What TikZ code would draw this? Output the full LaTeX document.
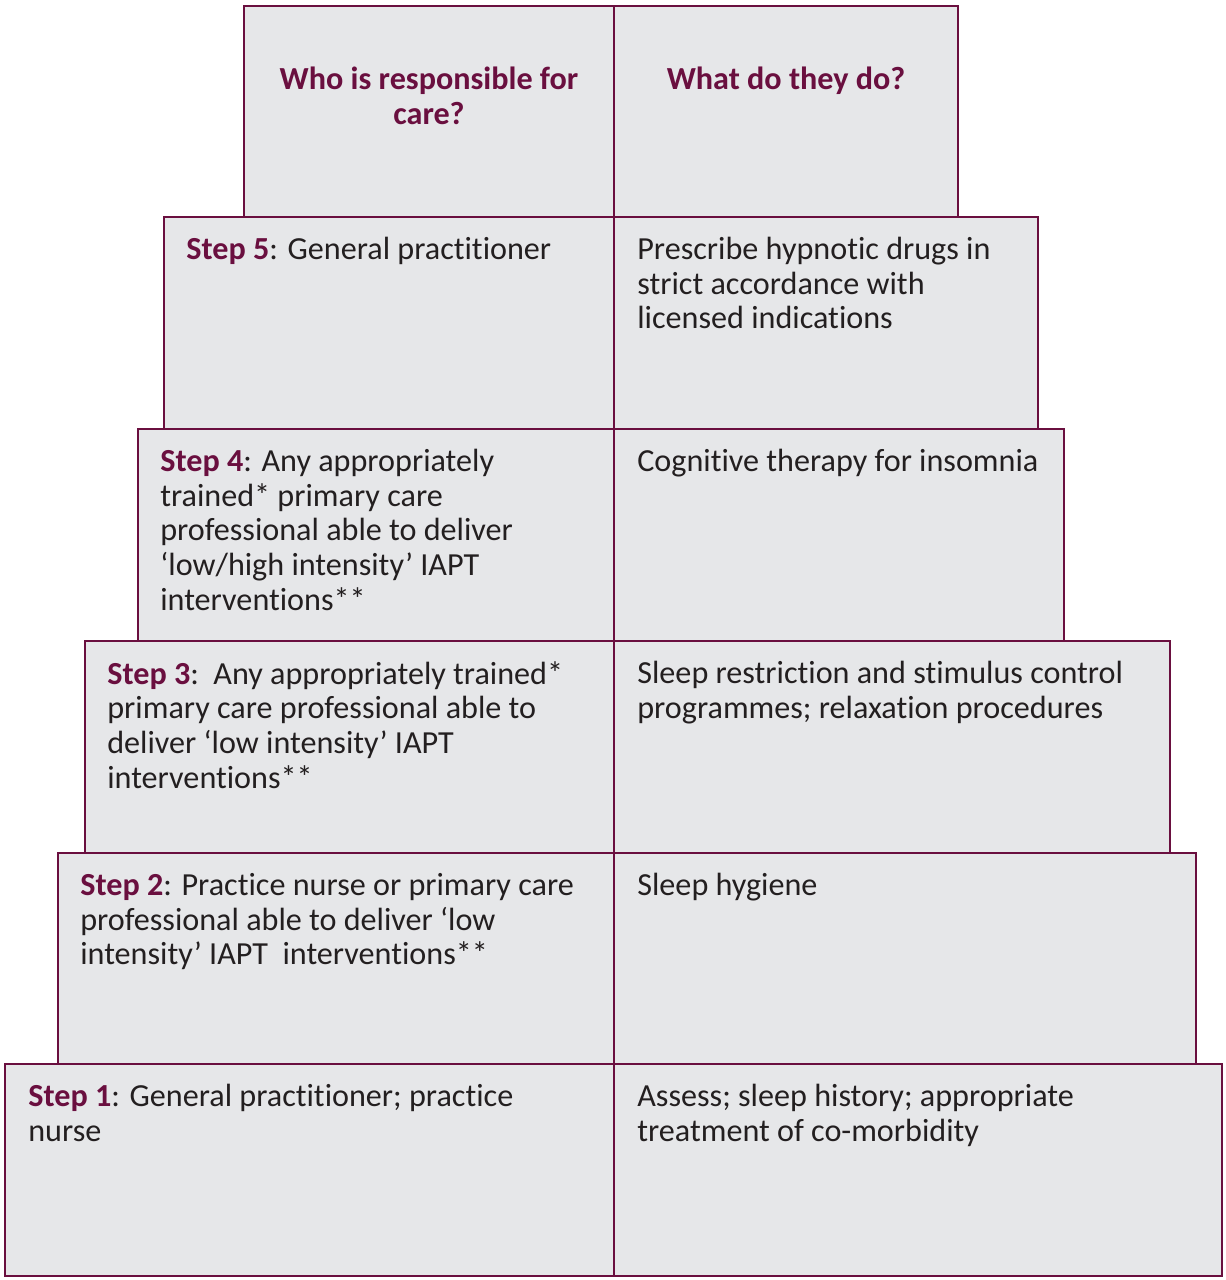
\documentclass[tikz,border=0pt]{standalone}
\usepackage{fontspec}
\setmainfont{Carlito}[Ligatures={TeX,NoCommon}]
\definecolor{maroon}{HTML}{6A0F3F}
\definecolor{cellgray}{HTML}{E6E7E9}
\definecolor{ink}{HTML}{231F20}
\tikzset{
  cell/.style={draw=maroon, fill=cellgray, line width=1.1pt},
  txt/.style={anchor=north west, inner sep=0pt, align=left, text=ink, font=\fontsize{18.3}{19.7}\selectfont},
  head/.style={anchor=north, inner sep=0pt, align=center, text=maroon, font=\fontsize{18.3}{19.7}\selectfont\bfseries},
}
\newcommand{\stepname}[1]{\textcolor{maroon}{\textbf{#1}}}
\begin{document}
\begin{tikzpicture}[x=0.02cm,y=-0.02cm]
    \useasboundingbox (0,0) rectangle (1225,1280);
    % boxes, from the widest step up to the header
    \draw[cell] (5,1064) rectangle (614,1276);
    \draw[cell] (614,1064) rectangle (1222,1276);
    \draw[cell] (58,853) rectangle (614,1064);
    \draw[cell] (614,853) rectangle (1196,1064);
    \draw[cell] (85,641) rectangle (614,853);
    \draw[cell] (614,641) rectangle (1170,853);
    \draw[cell] (138,429) rectangle (614,641);
    \draw[cell] (614,429) rectangle (1064,641);
    \draw[cell] (164,217) rectangle (614,429);
    \draw[cell] (614,217) rectangle (1038,429);
    \draw[cell] (244,6) rectangle (614,217);
    \draw[cell] (614,6) rectangle (958,217);
    % header
    \node[head] (who) at (429,67) {Who is responsible for\\care?};
    \node[head] (what) at (786,67) {What do they do?};
    % step 5
    \node[txt] (who5) at (186,237) {\stepname{Step 5}: General practitioner};
    \node[txt] (what5) at (637,237) {Prescribe hypnotic drugs in\\strict accordance with\\licensed indications};
    % step 4
    \node[txt] (who4) at (160,449) {\stepname{Step 4}: Any appropriately\\trained* primary care\\professional able to deliver\\‘low/high intensity’ IAPT\\interventions**};
    \node[txt] (what4) at (637,449) {Cognitive therapy for insomnia};
    % step 3
    \node[txt] (who3) at (107,661) {\stepname{Step 3}:\ \ Any appropriately trained*\\primary care professional able to\\deliver ‘low intensity’ IAPT\\interventions**};
    \node[txt] (what3) at (637,661) {Sleep restriction and stimulus control\\programmes; relaxation procedures};
    % step 2
    \node[txt] (who2) at (80,873) {\stepname{Step 2}: Practice nurse or primary care\\professional able to deliver ‘low\\intensity’ IAPT\ \ interventions**};
    \node[txt] (what2) at (637,873) {Sleep hygiene};
    % step 1
    \node[txt] (who1) at (28,1084) {\stepname{Step 1}: General practitioner; practice\\nurse};
    \node[txt] (what1) at (637,1084) {Assess; sleep history; appropriate\\treatment of co-morbidity};
\end{tikzpicture}
\end{document}
